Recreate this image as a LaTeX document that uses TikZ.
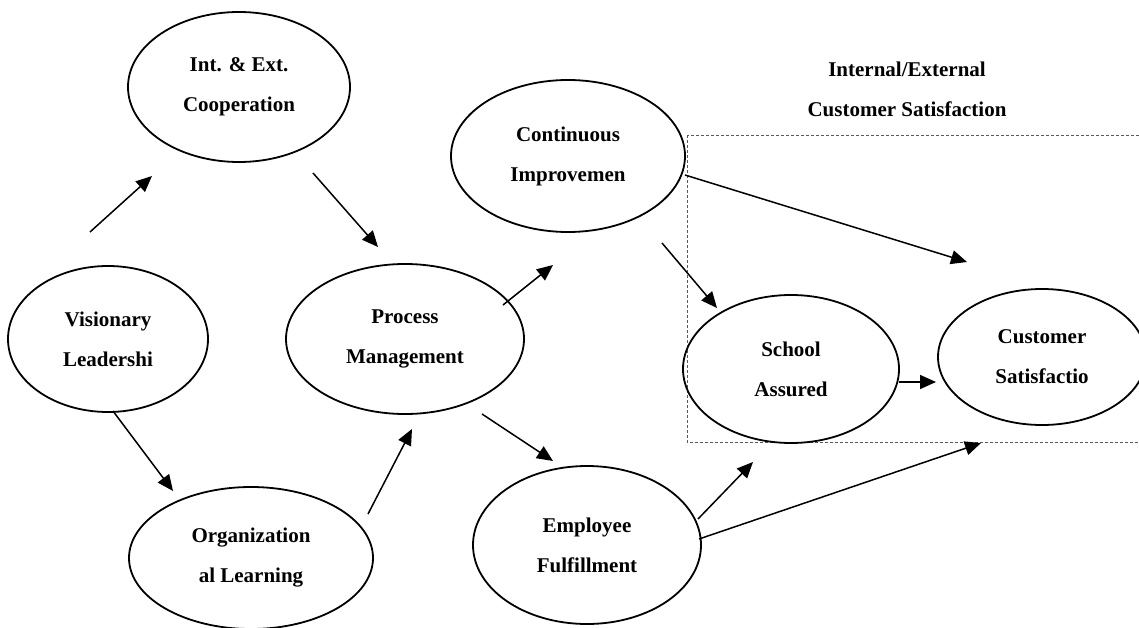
\documentclass[tikz,border=0pt]{standalone}
\usepackage{fontspec}
\setmainfont{Liberation Serif}
\usetikzlibrary{arrows.meta, shapes.geometric}

\begin{document}
\begin{tikzpicture}[x=1pt, y=-1pt,
  every node/.style={font=\fontsize{21}{40}\selectfont\bfseries, align=center},
  stage/.style={draw, ellipse, line width=1.8pt, inner sep=0pt},
  flow/.style={-{Triangle[length=16pt, width=14pt]}, line width=1.5pt}]
  \clip (0,0) rectangle (1139,628);

  % Internal/External satisfaction frame
  \draw[black!65, line width=0.8pt, dash pattern=on 3pt off 2pt]
    (687,135) rectangle (1146,442);
  \node (frame) at (907,89) {Internal/External\\Customer Satisfaction};

  % Stages
  \node[stage, minimum width=222pt, minimum height=150pt] (coop) at (239,87) {Int. \& Ext.\\Cooperation};
  \node[stage, minimum width=200pt, minimum height=146pt] (vision) at (108,339) {Visionary\\Leadershi};
  \node[stage, minimum width=238pt, minimum height=150pt] (process) at (405,339) {Process\\Management};
  \node[stage, minimum width=244pt, minimum height=142pt] (learning) at (251,558) {Organization\\al Learning};
  \node[stage, minimum width=234pt, minimum height=152pt] (improve) at (568,156) {Continuous\\Improvemen};
  \node[stage, minimum width=216pt, minimum height=148pt] (school) at (791,369) {School\\Assured};
  \node[stage, minimum width=208pt, minimum height=136pt] (customer) at (1042,357) {Customer\\Satisfactio};
  \node[stage, minimum width=228pt, minimum height=158pt] (employee) at (587,545) {Employee\\Fulfillment};

  % Arrow ends
  \coordinate (vision-a) at (90,232);    \coordinate (coop-a) at (152,176);
  \coordinate (coop-b) at (313,173);     \coordinate (process-a) at (378,247);
  \coordinate (vision-b) at (113,411);   \coordinate (learning-a) at (173,491);
  \coordinate (learning-b) at (368,514); \coordinate (process-b) at (412,429);
  \coordinate (process-c) at (503,305);  \coordinate (improve-a) at (553,265);
  \coordinate (process-d) at (482,414);  \coordinate (employee-a) at (553,461);
  \coordinate (improve-b) at (662,243);  \coordinate (school-a) at (717,308);
  \coordinate (improve-c) at (685,175);  \coordinate (customer-a) at (967,262);
  \coordinate (school-b) at (899,382);   \coordinate (customer-b) at (936,382);
  \coordinate (employee-b) at (698,519); \coordinate (school-c) at (753,462);
  \coordinate (employee-c) at (699,539); \coordinate (customer-c) at (981,443);

  % Arrows
  \draw[flow] (vision-a) -- (coop-a);
  \draw[flow] (coop-b) -- (process-a);
  \draw[flow] (vision-b) -- (learning-a);
  \draw[flow] (learning-b) -- (process-b);
  \draw[flow] (process-c) -- (improve-a);
  \draw[flow] (process-d) -- (employee-a);
  \draw[flow] (improve-b) -- (school-a);
  \draw[flow] (improve-c) -- (customer-a);
  \draw[flow] (school-b) -- (customer-b);
  \draw[flow] (employee-b) -- (school-c);
  \draw[flow] (employee-c) -- (customer-c);
\end{tikzpicture}
\end{document}
